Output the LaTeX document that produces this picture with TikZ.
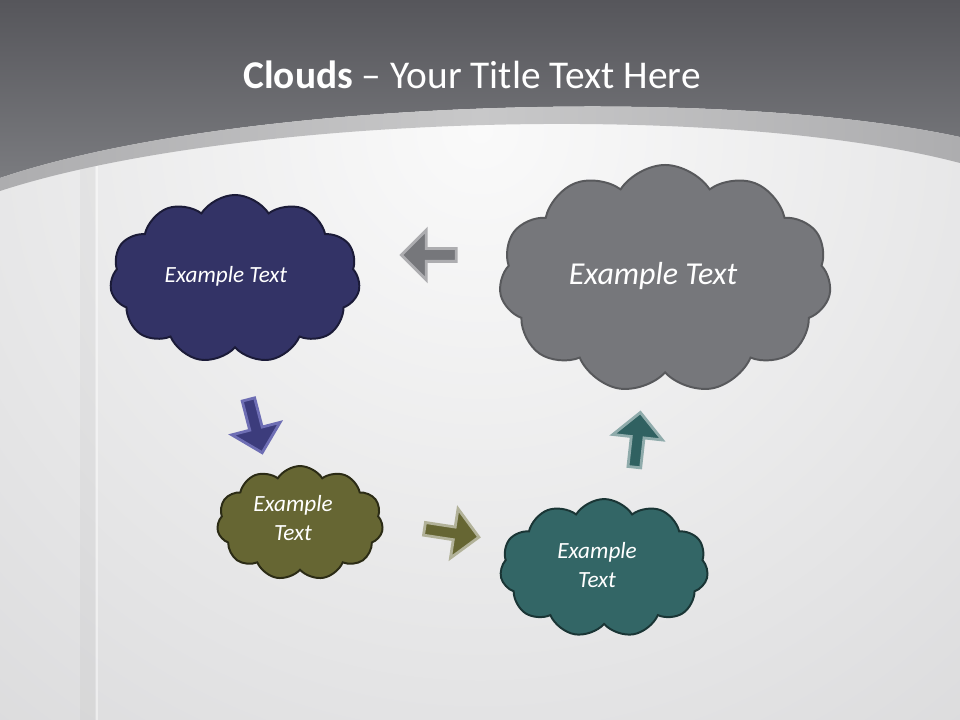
\documentclass[tikz,border=0pt]{standalone}
\usepackage{fontspec}
\setmainfont{Carlito}
\usepackage{tikz}
\usepackage{xcolor}
\usetikzlibrary{positioning,shapes.symbols,shapes.arrows}
\definecolor{bardark}{HTML}{56565B}
\definecolor{barlight}{HTML}{7A7B7F}
\definecolor{bandmid}{HTML}{C8C8C9}
\definecolor{bandside}{HTML}{ADADAF}
\definecolor{bodylight}{HTML}{FAFAFA}
\definecolor{bodydark}{HTML}{CFCFD1}
\definecolor{navyfill}{HTML}{333366}
\definecolor{navyline}{HTML}{1B1B38}
\definecolor{navyarrow}{HTML}{3C3C7C}
\definecolor{navyedge}{HTML}{6E6EB4}
\definecolor{greyfill}{HTML}{76777B}
\definecolor{greyline}{HTML}{58595C}
\definecolor{olivefill}{HTML}{666633}
\definecolor{oliveline}{HTML}{2B2B15}
\definecolor{tealfill}{HTML}{336666}
\definecolor{tealline}{HTML}{1A3535}
\tikzset{%
	cloudbox/.style  = {draw, cloud, cloud puffs=11, cloud puff arc=115, cloud ignores aspect, line width=1.4pt, inner sep=0pt}, % Cloud
	cloudtext/.style = {text=white, align=center, font=\fontsize{16.5}{20.6}\selectfont\itshape}, % Small text
	bigtext/.style   = {text=white, font=\fontsize{22.7}{27}\selectfont\itshape}, % Large text
	blockarrow/.style = {single arrow, draw, line width=2pt, inner sep=0.125cm, single arrow head extend=0.4625cm, minimum height=1.375cm}, % Arrow
}

\begin{document}
\begin{tikzpicture}[x=0.025cm,y=-0.025cm]
	\useasboundingbox (0,0) rectangle (960,720);
	% background
	\fill[bodydark] (0,0) rectangle (960,720);
	\begin{scope}
		\clip (0,0) rectangle (960,720);
		\shade[inner color=bodylight, outer color=bodydark] (480,130) circle (1100);
	\end{scope}
	\fill[black, opacity=0.03] (80,150) rectangle (95,720);
	\draw[white, opacity=0.45, line width=0.8pt] (97,150) -- (97,720);
	\shade[top color=bardark, bottom color=barlight] (0,0) -- (960,0) -- (960,137) .. controls (720,85) and (230,100) .. (0,178) -- cycle;
	\shade[left color=bandside, right color=bandside, middle color=bandmid] (0,178) .. controls (230,100) and (720,85) .. (960,137) -- (960,163) .. controls (720,100) and (230,116) .. (0,191) -- cycle;
	\node[text=white] (title) at (472,75) {\fontsize{28}{34}\selectfont\textbf{Clouds} – Your Title Text Here};

	% clouds
	\node [cloudbox, fill=navyfill, draw=navyline, minimum width=6.25cm, minimum height=4.2cm] (navy) at (235,279) {};
	\node [cloudbox, fill=greyfill, draw=greyline, minimum width=8.3cm, minimum height=5.7cm] (grey) [right of=navy, node distance=10.75cm] {};
	\node [cloudbox, fill=olivefill, draw=oliveline, minimum width=4.15cm, minimum height=2.85cm] (olive) [below of=navy, node distance=6.1cm, xshift=1.625cm] {};
	\node [cloudbox, fill=tealfill, draw=tealline, minimum width=5.2cm, minimum height=3.45cm] (teal) [below of=grey, node distance=7.225cm, xshift=-1.525cm] {};

	\node [cloudtext] (navytext) at ([xshift=-0.225cm, yshift=0.075cm]navy) {Example Text};
	\node [bigtext] (greytext) at ([xshift=-0.3cm, yshift=0.075cm]grey) {Example Text};
	\node [cloudtext] (olivetext) at ([xshift=-0.175cm, yshift=0.125cm]olive) {Example\\Text};
	\node [cloudtext] (tealtext) at ([xshift=-0.175cm, yshift=0.075cm]teal) {Example\\Text};

	% arrows
	\node [blockarrow, fill=greyfill, draw=greyfill!60!white, rotate=180] (toleft) at (432,255) {};
	\node [blockarrow, fill=navyarrow, draw=navyedge, rotate=-75.5] (todown) at (254.5,423) {};
	\node [blockarrow, fill=olivefill, draw=olivefill!50!white, rotate=-8.7] (toright) at (448.5,532.5) {};
	\node [blockarrow, fill=tealfill!95!black, draw=tealfill!55!white, rotate=83.7] (toup) at (637,443) {};
\end{tikzpicture}
\end{document}
